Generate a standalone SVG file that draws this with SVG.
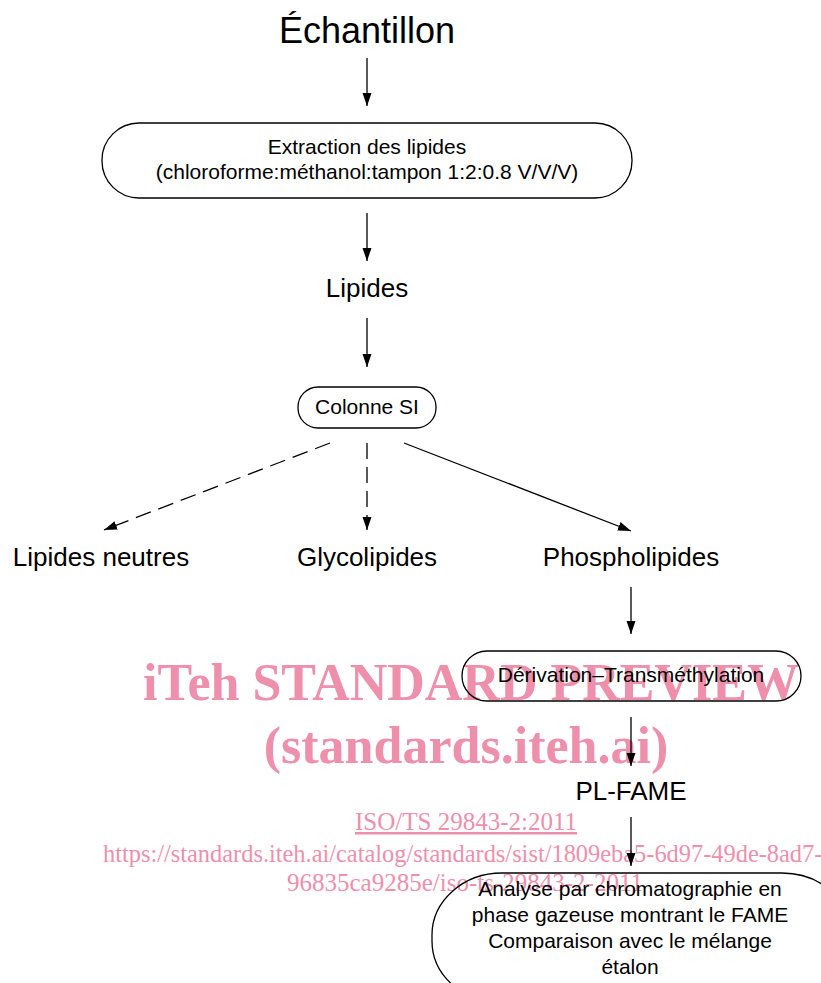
<svg xmlns="http://www.w3.org/2000/svg" width="821" height="983" viewBox="0 0 821 983">
<style>
.t{font-family:"Liberation Sans",Arial,sans-serif;fill:#000;text-anchor:middle}
.big{font-size:36px}
.lab{font-size:26px}
.box{font-size:21px}
.shape{fill:none;stroke:#000;stroke-width:1.3}
.con{stroke:#000;stroke-width:1.3;fill:none;marker-end:url(#ah)}
.dash{stroke-dasharray:16 8}
.wm{font-family:"Liberation Serif","Times New Roman",serif;fill:#ee8fac;text-anchor:middle}
.wmb{font-size:52px;font-weight:bold}
.wms{font-size:25px}
</style>
<defs>
<marker id="ah" markerUnits="userSpaceOnUse" markerWidth="14" markerHeight="10" refX="13" refY="4.5" orient="auto">
<path d="M0,0 L13,4.5 L0,9 z" fill="#000"/>
</marker>
</defs>
<rect width="821" height="983" fill="#fff"/>
<g id="watermark">
<text class="wm wmb" x="471" y="700">iTeh STANDARD PREVIEW</text>
<text class="wm wmb" x="466" y="763">(standards.iteh.ai)</text>
<text class="wm wms" x="466" y="830" text-decoration="underline">ISO/TS 29843-2:2011</text>
<text class="wm" x="103" y="862" style="text-anchor:start;font-size:24.4px">https://standards.iteh.ai/catalog/standards/sist/1809eba5-6d97-49de-8ad7-</text>
<text class="wm wms" x="465" y="891">96835ca9285e/iso-ts-29843-2-2011</text>
</g>
<g id="echantillon"><text class="t big" x="367" y="43">Échantillon</text></g>
<g id="extraction">
<rect class="shape" x="102" y="123" width="530" height="75" rx="37" ry="37"/>
<text class="t box" x="367" y="154">Extraction des lipides</text>
<text class="t box" x="367" y="179">(chloroforme:méthanol:tampon 1:2:0.8 V/V/V)</text>
</g>
<g id="lipides"><text class="t lab" x="367" y="297">Lipides</text></g>
<g id="colonne">
<rect class="shape" x="298" y="387" width="138" height="41" rx="20" ry="20"/>
<text class="t box" x="367" y="414">Colonne SI</text>
</g>
<g id="neutres"><text class="t lab" x="101" y="566">Lipides neutres</text></g>
<g id="glyco"><text class="t lab" x="367" y="566">Glycolipides</text></g>
<g id="phospho"><text class="t lab" x="631" y="566">Phospholipides</text></g>
<g id="derivation">
<rect class="shape" x="462" y="651" width="339" height="50" rx="25" ry="25"/>
<text class="t box" x="631" y="682">Dérivation–Transméthylation</text>
</g>
<g id="plfame"><text class="t lab" x="631" y="800">PL-FAME</text></g>
<g id="analyse">
<rect class="shape" x="432" y="873" width="420" height="130" rx="70" ry="62"/>
<text class="t box" x="630" y="896">Analyse par chromatographie en</text>
<text class="t box" x="630" y="922">phase gazeuse montrant le FAME</text>
<text class="t box" x="630" y="948">Comparaison avec le mélange</text>
<text class="t box" x="630" y="974">étalon</text>
</g>
<g id="connectors">
<line class="con" x1="367" y1="58" x2="367" y2="106"/>
<line class="con" x1="367" y1="213" x2="367" y2="261"/>
<line class="con" x1="367" y1="318" x2="367" y2="367"/>
<line class="con dash" x1="330" y1="443" x2="104" y2="530"/>
<line class="con dash" x1="367" y1="443" x2="367" y2="530"/>
<line class="con" x1="404" y1="443" x2="631" y2="531"/>
<line class="con" x1="631" y1="587" x2="631" y2="634"/>
<line class="con" x1="631" y1="717" x2="631" y2="766"/>
<line class="con" x1="631" y1="817" x2="631" y2="866"/>
</g>
</svg>
